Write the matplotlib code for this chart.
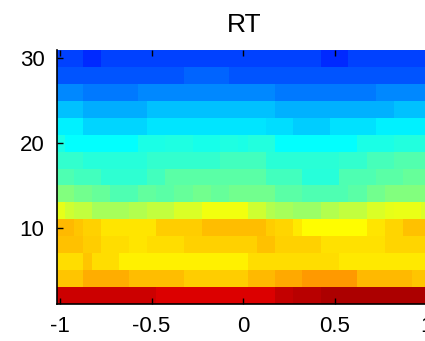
import numpy as np
import matplotlib.pyplot as plt
from matplotlib.colors import LinearSegmentedColormap

plt.rcParams['font.family'] = ['Liberation Sans', 'DejaVu Sans']
plt.rcParams['axes.unicode_minus'] = False

# columns (x) and rows (y) of the map
x = np.round(np.arange(-1, 1.0001, 0.05), 3)   # 41 columns
y = np.arange(2, 31, 2)                          # 15 rows

xticks = [-1, -0.5, 0, 0.5, 1]
xticklabels = ['-1', '-0.5', '0', '0.5', '1']
yticks = [10, 20, 30]

# values per row as (value, number of columns), top row (y=30) first
row_30 = [(0.19, 3), (0.165, 2), (0.19, 24), (0.165, 3), (0.19, 9)]
row_28 = [(0.21, 14), (0.225, 5), (0.21, 22)]
row_26 = [(0.26, 3), (0.245, 6), (0.26, 15), (0.245, 11), (0.26, 6)]
row_24 = [(0.315, 3), (0.295, 7), (0.315, 14), (0.3, 13), (0.315, 4)]
row_22 = [(0.36, 3), (0.335, 7), (0.35, 13), (0.34, 3), (0.325, 4), (0.345, 5), (0.36, 6)]
row_20 = [(0.40, 1), (0.375, 8), (0.40, 3), (0.405, 3), (0.395, 3), (0.405, 2), (0.40, 1),
          (0.41, 3), (0.375, 9), (0.40, 4), (0.41, 4)]
row_18 = [(0.425, 3), (0.4125, 7), (0.425, 8), (0.4375, 5), (0.415, 8), (0.425, 3),
          (0.445, 3), (0.455, 4)]
row_16 = [(0.45, 2), (0.4375, 3), (0.42, 5), (0.4375, 2), (0.4625, 11), (0.4375, 4),
          (0.4125, 4), (0.45, 4), (0.4625, 3), (0.475, 3)]
row_14 = [(0.5, 2), (0.4875, 2), (0.475, 2), (0.45, 3), (0.47, 2), (0.4625, 2), (0.475, 2),
          (0.4875, 2), (0.475, 2), (0.4875, 5), (0.4625, 3), (0.45, 5), (0.4625, 2),
          (0.4875, 2), (0.5, 5)]
row_12 = [(0.6, 1), (0.575, 1), (0.5625, 2), (0.5375, 4), (0.55, 2), (0.5625, 3), (0.5875, 3),
          (0.6125, 5), (0.575, 2), (0.55, 1), (0.5375, 2), (0.525, 3), (0.55, 2), (0.5625, 3),
          (0.5875, 2), (0.6, 1), (0.605, 3), (0.5875, 1)]
row_10 = [(0.695, 2), (0.68, 1), (0.67, 2), (0.65, 6), (0.675, 5), (0.69, 7), (0.675, 1),
          (0.665, 2), (0.645, 1), (0.625, 7), (0.65, 2), (0.665, 2), (0.685, 3)]
row_8 = [(0.685, 3), (0.675, 2), (0.66, 3), (0.65, 2), (0.66, 4), (0.67, 8), (0.685, 2),
         (0.67, 5), (0.655, 7), (0.665, 5)]
row_6 = [(0.66, 3), (0.68, 1), (0.66, 3), (0.64, 14), (0.66, 10), (0.645, 10)]
row_4 = [(0.68, 3), (0.705, 5), (0.69, 6), (0.675, 7), (0.695, 3), (0.71, 3), (0.725, 6),
         (0.695, 6), (0.68, 2)]
row_2 = [(0.925, 11), (0.91, 13), (0.93, 2), (0.945, 3), (0.955, 12)]

rows_top_down = [row_30, row_28, row_26, row_24, row_22, row_20, row_18, row_16,
                 row_14, row_12, row_10, row_8, row_6, row_4, row_2]


def expand(segs):
    vals = []
    for v, n in segs:
        vals += [v] * n
    assert len(vals) == len(x)
    return vals


Z = np.array([expand(r) for r in rows_top_down[::-1]])

# matlab style jet
jet = LinearSegmentedColormap.from_list(
    'jet_m', [(0, (0, 0, 0.5)), (1/8, (0, 0, 1)), (3/8, (0, 1, 1)),
              (5/8, (1, 1, 0)), (7/8, (1, 0, 0)), (1, (0.5, 0, 0))], N=256)

W, H = 425, 341
fig = plt.figure(figsize=(W / 100, H / 100), dpi=100)
ax = fig.add_axes([57 / W, (H - 304) / H, (430.6 - 57) / W, 254 / H])

ax.pcolormesh(x, y, Z, cmap=jet, vmin=0, vmax=1, shading='nearest')
ax.set_xlim(-1.0164, 1.025)
ax.set_ylim(1, 31)

ax.set_xticks(xticks)
ax.set_xticklabels(xticklabels)
ax.set_yticks(yticks)
ax.tick_params(axis='both', direction='in', length=4, width=1, labelsize=16, color='black')
ax.tick_params(axis='x', top=True, pad=9)
ax.tick_params(axis='y', pad=9)

for side in ['top', 'right']:
    ax.spines[side].set_visible(False)
ax.spines['left'].set_linewidth(1.2)
ax.spines['bottom'].set_linewidth(1.2)

ax.set_title('RT', fontsize=19, pad=13)

plt.savefig('out.png', dpi=100)
